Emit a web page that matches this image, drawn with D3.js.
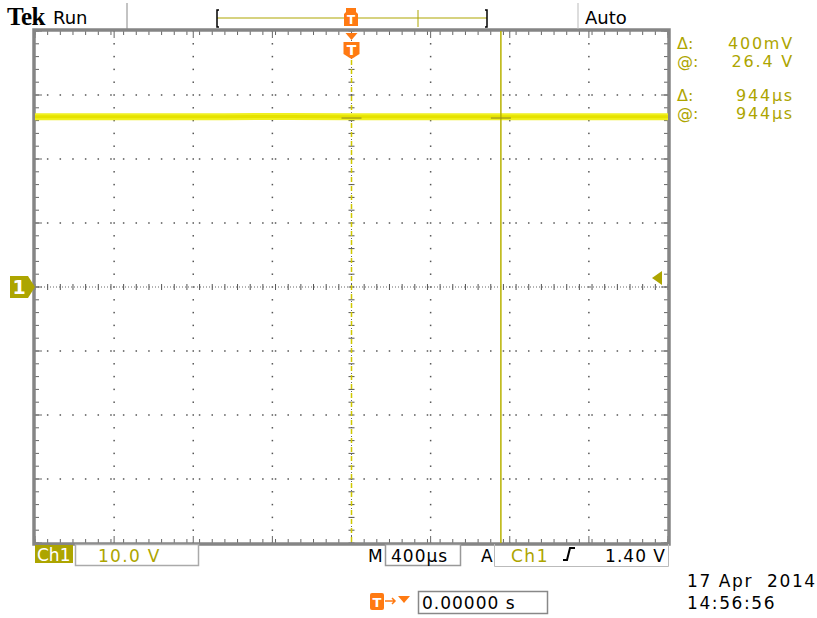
<!DOCTYPE html>
<html>
<head>
<meta charset="utf-8">
<script src="https://cdn.jsdelivr.net/npm/d3@7"></script>
<style>
  body { margin: 0; background: #fff; }
  text { font-family: "DejaVu Sans", sans-serif; }
</style>
</head>
<body>
<svg id="scope" width="817" height="618"></svg>
<script>
// scope settings
const voltsPerDiv = 10      // Ch1 10.0 V
const timePerDiv = 400      // M 400µs
const trigLevel = 1.40      // A Ch1 rising 1.40 V
const cursorVolts = 26.4
const cursorTime = 944      // µs
// trace samples, one per division (µs, V)
const traceTime = [-2000, -1600, -1200, -800, -400, 0, 400, 800, 1200, 1600, 2000]
const traceVolts = [26.6, 26.6, 26.6, 26.6, 26.65, 26.6, 26.6, 26.6, 26.6, 26.6, 26.6]
const readoutLabels = ['Δ:', '@:', 'Δ:', '@:']
const readoutValues = ['400mV', '26.4 V', '944µs', '944µs']

const olive = '#ada500'
const orange = '#ff7a12'
const svg = d3.select('#scope')

const gLeft = 35, gRight = 668, gTop = 31, gBottom = 543
const x = d3.scaleLinear().domain([-5 * timePerDiv, 5 * timePerDiv]).range([gLeft, gRight])
const y = d3.scaleLinear().domain([-4 * voltsPerDiv, 4 * voltsPerDiv]).range([gBottom, gTop])

const minorX = d3.range(-5 * timePerDiv, 5 * timePerDiv + 1, timePerDiv / 5)
const minorY = d3.range(-4 * voltsPerDiv, 4 * voltsPerDiv + 1, voltsPerDiv / 5)
const majorX = x.ticks(10)
const majorY = y.ticks(8)

// ---- graticule dots
const grid = svg.append('g').attr('fill', '#555')
majorY.filter(v => v !== 0 && Math.abs(v) < 40).forEach(v => {
  grid.selectAll(null).data(minorX).enter().append('rect')
    .attr('x', d => x(d) - 0.75).attr('y', y(v) - 0.75).attr('width', 1.5).attr('height', 1.5)
})
majorX.filter(t => t !== 0 && Math.abs(t) < 2000).forEach(t => {
  grid.selectAll(null).data(minorY).enter().append('rect')
    .attr('x', x(t) - 0.75).attr('y', d => y(d) - 0.75).attr('width', 1.5).attr('height', 1.5)
})

// center axes, dotted with cross ticks
svg.append('line').attr('x1', gLeft).attr('x2', gRight).attr('y1', y(0)).attr('y2', y(0))
  .attr('stroke', '#666').attr('stroke-dasharray', '1,2')
svg.append('line').attr('x1', x(0)).attr('x2', x(0)).attr('y1', gTop).attr('y2', gBottom)
  .attr('stroke', '#666').attr('stroke-dasharray', '1,2')
svg.append('g').selectAll('line').data(minorX).enter().append('line')
  .attr('x1', d => x(d)).attr('x2', d => x(d)).attr('y1', y(0) - 3).attr('y2', y(0) + 3)
  .attr('stroke', '#555')
svg.append('g').selectAll('line').data(minorY).enter().append('line')
  .attr('x1', x(0) - 3).attr('x2', x(0) + 3).attr('y1', d => y(d)).attr('y2', d => y(d))
  .attr('stroke', '#555')

// border + edge ticks
const edge = svg.append('g').attr('stroke', '#666')
edge.selectAll('.tt').data(minorX).enter().append('line')
  .attr('x1', d => x(d)).attr('x2', d => x(d)).attr('y1', gTop).attr('y2', gTop + 4)
edge.selectAll('.tb').data(minorX).enter().append('line')
  .attr('x1', d => x(d)).attr('x2', d => x(d)).attr('y1', gBottom - 4).attr('y2', gBottom)
edge.selectAll('.tl').data(minorY).enter().append('line')
  .attr('x1', gLeft).attr('x2', gLeft + 4).attr('y1', d => y(d)).attr('y2', d => y(d))
edge.selectAll('.tr').data(minorY).enter().append('line')
  .attr('x1', gRight - 4).attr('x2', gRight).attr('y1', d => y(d)).attr('y2', d => y(d))
majorX.forEach(t => {
  edge.append('line').attr('x1', x(t)).attr('x2', x(t)).attr('y1', gTop).attr('y2', gTop + 7)
  edge.append('line').attr('x1', x(t)).attr('x2', x(t)).attr('y1', gBottom - 7).attr('y2', gBottom)
})
majorY.forEach(v => {
  edge.append('line').attr('x1', gLeft).attr('x2', gLeft + 7).attr('y1', y(v)).attr('y2', y(v))
  edge.append('line').attr('x1', gRight - 7).attr('x2', gRight).attr('y1', y(v)).attr('y2', y(v))
})
svg.append('rect').attr('x', gLeft - 1).attr('y', gTop - 1).attr('width', gRight - gLeft + 2).attr('height', gBottom - gTop + 2)
  .attr('fill', 'none').attr('stroke', '#858585').attr('stroke-width', 3.5)

// trigger position dashed line
svg.append('line').attr('x1', x(0)).attr('x2', x(0)).attr('y1', 60).attr('y2', gBottom)
  .attr('stroke', '#cfc800').attr('stroke-width', 1.5).attr('stroke-dasharray', '5,4')

// trace
const line = d3.line().x((d, i) => x(traceTime[i])).y(d => y(d))
svg.append('path').datum(traceVolts).attr('d', line)
  .attr('fill', 'none').attr('stroke', '#f0f020').attr('stroke-width', 7)
svg.append('path').datum(traceVolts).attr('d', line)
  .attr('fill', 'none').attr('stroke', '#e6e200').attr('stroke-width', 3)

// cursors
svg.append('line').attr('x1', x(cursorTime)).attr('x2', x(cursorTime)).attr('y1', gTop).attr('y2', gBottom)
  .attr('stroke', '#b8b200').attr('stroke-width', 1.5)
;[0, cursorTime].forEach(t => {
  svg.append('line').attr('x1', x(t) - 10).attr('x2', x(t) + 10).attr('y1', y(cursorVolts)).attr('y2', y(cursorVolts))
    .attr('stroke', '#9a9420').attr('stroke-width', 1.2)
})

// ground marker "1"
const gy = y(0)
svg.append('path')
  .attr('d', `M10,${gy - 11} L28,${gy - 11} L35,${gy} L28,${gy + 11} L10,${gy + 11} Z`)
  .attr('fill', olive)
svg.append('text').attr('x', 19).attr('y', gy + 7).attr('text-anchor', 'middle')
  .attr('fill', '#fff').attr('font-size', 19).attr('font-weight', 'bold').text('1')
// trigger level arrow
const ty = y(trigLevel)
svg.append('path').attr('d', `M652,${ty} L662,${ty - 7} L662,${ty + 7} Z`).attr('fill', olive)

// ---- top status line
svg.append('text').attr('x', 7).attr('y', 25).style('font-family', '"Liberation Serif", serif')
  .attr('font-weight', 'bold').attr('font-size', 25).attr('letter-spacing', -0.5).attr('fill', '#000').text('Tek')
svg.append('text').attr('x', 53).attr('y', 24).attr('font-size', 18).attr('fill', '#000').text('Run')
svg.append('line').attr('x1', 127).attr('x2', 127).attr('y1', 3).attr('y2', 29).attr('stroke', '#888')
svg.append('line').attr('x1', 578).attr('x2', 578).attr('y1', 3).attr('y2', 29).attr('stroke', '#bbb')
svg.append('text').attr('x', 585).attr('y', 24).attr('font-size', 18).attr('fill', '#000').text('Auto')

// record view bar
svg.append('line').attr('x1', 217).attr('x2', 487).attr('y1', 18).attr('y2', 18).attr('stroke', olive)
svg.append('path').attr('d', 'M219,10 L217,10 L217,27 L219,27').attr('fill', 'none').attr('stroke', '#000').attr('stroke-width', 1.5)
svg.append('path').attr('d', 'M485,10 L487,10 L487,27 L485,27').attr('fill', 'none').attr('stroke', '#000').attr('stroke-width', 1.5)
svg.append('line').attr('x1', 418).attr('x2', 418).attr('y1', 10).attr('y2', 27).attr('stroke', olive)
svg.append('path').attr('d', 'M346,8 L356,8 L356,12 L358,14 L358,26 L344,26 L344,14 L346,12 Z').attr('fill', orange)
svg.append('text').attr('x', 351).attr('y', 24).attr('text-anchor', 'middle').attr('font-size', 12)
  .attr('font-weight', 'bold').attr('fill', '#fff').text('T')

// trigger marker below top edge
svg.append('path').attr('d', `M${x(0) - 6},33 L${x(0) + 6},33 L${x(0)},40 Z`).attr('fill', orange)
svg.append('path').attr('d', `M${x(0) - 8},42 L${x(0) + 8},42 L${x(0) + 8},54 L${x(0)},59 L${x(0) - 8},54 Z`).attr('fill', orange)
svg.append('text').attr('x', x(0)).attr('y', 55).attr('text-anchor', 'middle').attr('font-size', 14)
  .attr('font-weight', 'bold').attr('fill', '#fff').text('T')

// readouts
readoutLabels.forEach((lab, i) => {
  const ry = [49, 67, 101, 119][i]
  svg.append('text').attr('x', 677).attr('y', ry).attr('font-size', 16).attr('fill', olive).text(lab)
  svg.append('text').attr('x', 794).attr('y', ry).attr('text-anchor', 'end').attr('font-size', 16)
    .attr('letter-spacing', 1.8).attr('fill', olive).text(readoutValues[i])
})

// ---- bottom status line
svg.append('rect').attr('x', 35).attr('y', 545).attr('width', 38).attr('height', 18).attr('fill', olive)
svg.append('text').attr('x', 37).attr('y', 561).attr('font-size', 17).attr('fill', '#fff').text('Ch1')
svg.append('rect').attr('x', 75.5).attr('y', 544.5).attr('width', 123).attr('height', 21)
  .attr('fill', '#fff').attr('stroke', '#aaa').attr('stroke-width', 1.5)
svg.append('text').attr('x', 98).attr('y', 562).attr('font-size', 17).attr('letter-spacing', 1.3)
  .attr('fill', olive).text(voltsPerDiv.toFixed(1) + ' V')

svg.append('text').attr('x', 368).attr('y', 562).attr('font-size', 17).attr('fill', '#000').text('M')
svg.append('rect').attr('x', 385.5).attr('y', 544.5).attr('width', 75).attr('height', 21)
  .attr('fill', '#fff').attr('stroke', '#999').attr('stroke-width', 1.5)
svg.append('text').attr('x', 391).attr('y', 562).attr('font-size', 17).attr('letter-spacing', 1)
  .attr('fill', '#000').text(timePerDiv + 'µs')
svg.append('text').attr('x', 481).attr('y', 562).attr('font-size', 17).attr('fill', '#000').text('A')
svg.append('path').attr('d', 'M494.5,544 L494.5,566.5 L668.5,566.5 L668.5,544')
  .attr('fill', 'none').attr('stroke', '#bbb')
svg.append('text').attr('x', 511).attr('y', 562).attr('font-size', 17).attr('letter-spacing', 1.5)
  .attr('fill', olive).text('Ch1')
svg.append('path').attr('d', 'M563,560 L567,560 L570,548 L575,548').attr('fill', 'none')
  .attr('stroke', '#000').attr('stroke-width', 2)
svg.append('text').attr('x', 666).attr('y', 562).attr('text-anchor', 'end').attr('font-size', 17)
  .attr('letter-spacing', 1).attr('fill', '#000').text(trigLevel.toFixed(2) + ' V')

// trigger position readout
svg.append('rect').attr('x', 370).attr('y', 593).attr('width', 14).attr('height', 17).attr('rx', 2).attr('fill', orange)
svg.append('text').attr('x', 377).attr('y', 607).attr('text-anchor', 'middle').attr('font-size', 13)
  .attr('font-weight', 'bold').attr('fill', '#fff').text('T')
svg.append('path').attr('d', 'M385,601 L395,601 M392,598 L395,601 L392,604').attr('fill', 'none')
  .attr('stroke', orange).attr('stroke-width', 1.5)
svg.append('path').attr('d', 'M398,596 L410,596 L404,603 Z').attr('fill', orange)
svg.append('rect').attr('x', 418.5).attr('y', 591.5).attr('width', 129).attr('height', 22)
  .attr('fill', '#fff').attr('stroke', '#888').attr('stroke-width', 1.5)
svg.append('text').attr('x', 422).attr('y', 609).attr('font-size', 17).attr('letter-spacing', 1)
  .attr('fill', '#000').text('0.00000 s')

// date / time
svg.append('text').attr('x', 687).attr('y', 587).attr('font-size', 17).attr('letter-spacing', 1.6)
  .attr('fill', '#000').attr('xml:space', 'preserve').text('17 Apr  2014')
svg.append('text').attr('x', 687).attr('y', 609).attr('font-size', 17).attr('letter-spacing', 1.6)
  .attr('fill', '#000').text('14:56:56')
</script>
</body>
</html>
